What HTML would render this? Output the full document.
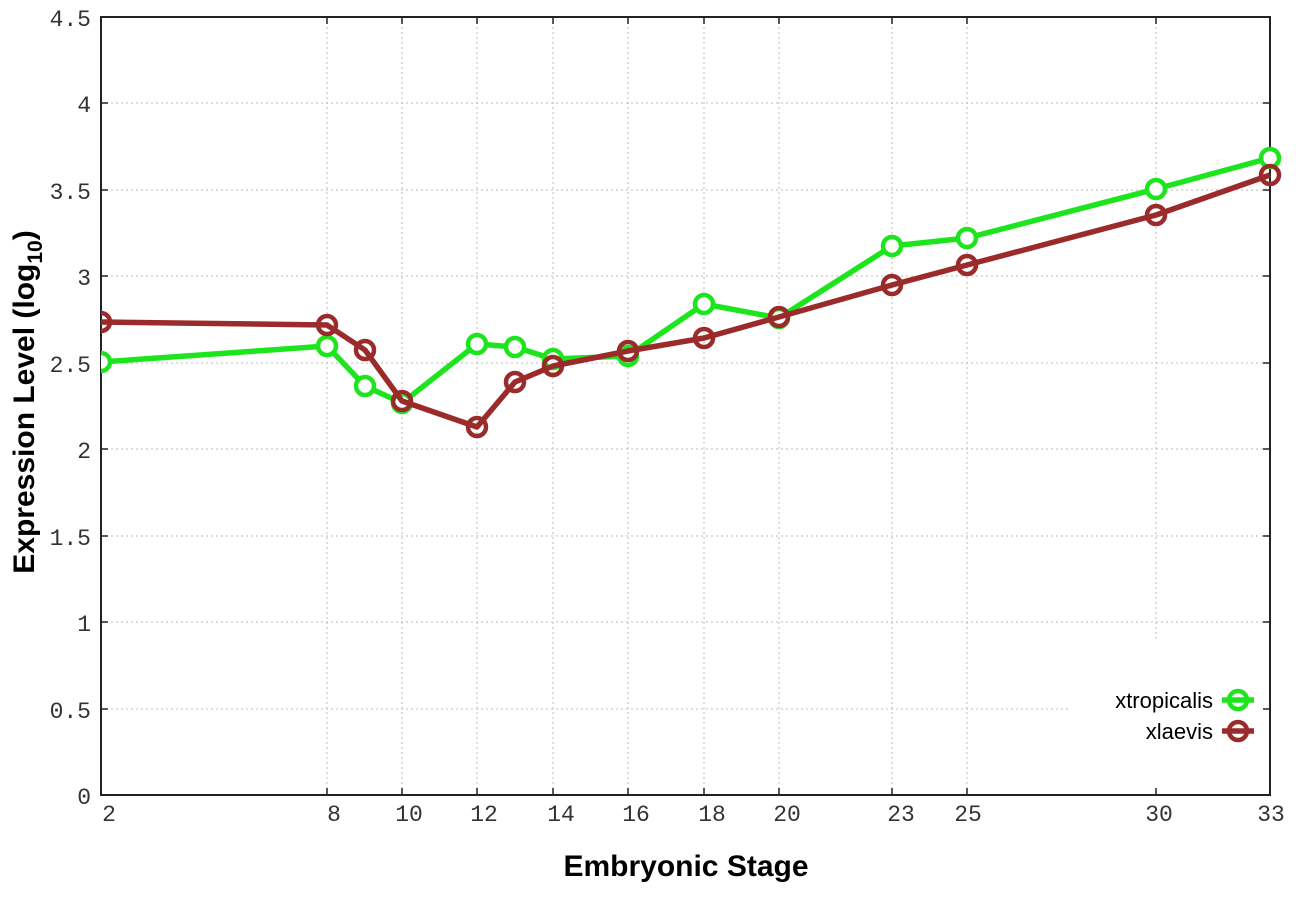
<!DOCTYPE html>
<html><head><meta charset="utf-8"><style>
html,body{margin:0;padding:0;background:#fff;}
svg{display:block;}
.t{font-family:"Liberation Mono",monospace;font-size:23px;fill:#333;}
.b{font-family:"Liberation Sans",sans-serif;font-weight:bold;font-size:30px;fill:#000;}
.l{font-family:"Liberation Sans",sans-serif;font-size:22px;fill:#000;}
</style></head><body>
<svg width="1296" height="907" xmlns="http://www.w3.org/2000/svg">
<defs><clipPath id="c"><rect x="101" y="0" width="1195" height="907"/></clipPath></defs>
<g stroke="#bbb" stroke-width="1" stroke-dasharray="2,3">
<line x1="101" x2="1270" y1="103" y2="103"/><line x1="101" x2="1270" y1="190" y2="190"/>
<line x1="101" x2="1270" y1="276" y2="276"/><line x1="101" x2="1270" y1="363" y2="363"/>
<line x1="101" x2="1270" y1="449" y2="449"/><line x1="101" x2="1270" y1="536" y2="536"/>
<line x1="101" x2="1270" y1="622" y2="622"/><line x1="101" x2="1070" y1="709" y2="709"/>
<line y1="17" y2="795" x1="327" x2="327"/><line y1="17" y2="795" x1="402" x2="402"/>
<line y1="17" y2="795" x1="477" x2="477"/><line y1="17" y2="795" x1="553" x2="553"/>
<line y1="17" y2="795" x1="628" x2="628"/><line y1="17" y2="795" x1="704" x2="704"/>
<line y1="17" y2="795" x1="779" x2="779"/><line y1="17" y2="795" x1="892" x2="892"/>
<line y1="17" y2="795" x1="967" x2="967"/><line y1="17" y2="640" x1="1156" x2="1156"/>
</g>
<rect x="101" y="17" width="1169" height="778" fill="none" stroke="#222" stroke-width="2"/>
<g stroke="#222" stroke-width="1.5">
<path d="M101 103h7M101 190h7M101 276h7M101 363h7M101 449h7M101 536h7M101 622h7M101 709h7"/>
<path d="M1270 103h-7M1270 190h-7M1270 276h-7M1270 363h-7M1270 449h-7M1270 536h-7M1270 622h-7M1270 709h-7"/>
<path d="M327 795v-7M402 795v-7M477 795v-7M553 795v-7M628 795v-7M704 795v-7M779 795v-7M892 795v-7M967 795v-7M1156 795v-7"/>
<path d="M327 17v7M402 17v7M477 17v7M553 17v7M628 17v7M704 17v7M779 17v7M892 17v7M967 17v7M1156 17v7"/>
</g>
<g class="t" text-anchor="end">
<text x="91" y="26">4.5</text><text x="91" y="112">4</text><text x="91" y="199">3.5</text>
<text x="91" y="285">3</text><text x="91" y="372">2.5</text><text x="91" y="458">2</text>
<text x="91" y="545">1.5</text><text x="91" y="631">1</text><text x="91" y="718">0.5</text>
<text x="91" y="804">0</text>
</g>
<g class="t" text-anchor="middle">
<text x="109" y="821">2</text><text x="334" y="821">8</text><text x="409" y="821">10</text>
<text x="484" y="821">12</text><text x="561" y="821">14</text><text x="636" y="821">16</text>
<text x="712" y="821">18</text><text x="787" y="821">20</text><text x="901" y="821">23</text>
<text x="968" y="821">25</text><text x="1159" y="821">30</text><text x="1271" y="821">33</text>
</g>
<text class="b" x="686" y="876" text-anchor="middle">Embryonic Stage</text>
<text class="b" transform="translate(34,402) rotate(-90)" text-anchor="middle">Expression Level (log<tspan font-size="21" dy="8">10</tspan><tspan dy="-8">)</tspan></text>
<g clip-path="url(#c)" fill="none" stroke-width="5.5" stroke-linejoin="round">
<g stroke="#1de51d">
<polyline points="101,362 327,346 365,386 402,403 477,344 515,347 553,359 628,356 704,304 779,318 892,246 967,238 1156,189 1270,158"/>
<g fill="#fff" stroke-width="4.5">
<circle cx="101" cy="362" r="9"/><circle cx="327" cy="346" r="9"/><circle cx="365" cy="386" r="9"/>
<circle cx="402" cy="403" r="9"/><circle cx="477" cy="344" r="9"/><circle cx="515" cy="347" r="9"/>
<circle cx="553" cy="359" r="9"/><circle cx="628" cy="356" r="9"/><circle cx="704" cy="304" r="9"/>
<circle cx="779" cy="318" r="9"/><circle cx="892" cy="246" r="9"/><circle cx="967" cy="238" r="9"/>
<circle cx="1156" cy="189" r="9"/><circle cx="1270" cy="158" r="9"/>
</g></g>
<g stroke="#9b2a2a">
<polyline points="101,322 327,325 365,350 402,401 477,427 515,382 553,366 628,351 704,338 779,317 892,285 967,265 1156,215 1270,175"/>
<g fill="none" stroke-width="4.5">
<circle cx="101" cy="322" r="9"/><circle cx="327" cy="325" r="9"/><circle cx="365" cy="350" r="9"/>
<circle cx="402" cy="401" r="9"/><circle cx="477" cy="427" r="9"/><circle cx="515" cy="382" r="9"/>
<circle cx="553" cy="366" r="9"/><circle cx="628" cy="351" r="9"/><circle cx="704" cy="338" r="9"/>
<circle cx="779" cy="317" r="9"/><circle cx="892" cy="285" r="9"/><circle cx="967" cy="265" r="9"/>
<circle cx="1156" cy="215" r="9"/><circle cx="1270" cy="175" r="9"/>
</g></g>
</g>
<text class="l" x="1213" y="708" text-anchor="end">xtropicalis</text>
<text class="l" x="1213" y="739" text-anchor="end">xlaevis</text>
<g stroke-width="5.5" fill="none">
<line x1="1222" x2="1254" y1="700" y2="700" stroke="#1de51d"/><circle cx="1238" cy="700" r="9" stroke="#1de51d" stroke-width="4.5"/>
<line x1="1222" x2="1254" y1="731" y2="731" stroke="#9b2a2a"/><circle cx="1238" cy="731" r="9" stroke="#9b2a2a" stroke-width="4.5"/>
</g>
</svg>
</body></html>
